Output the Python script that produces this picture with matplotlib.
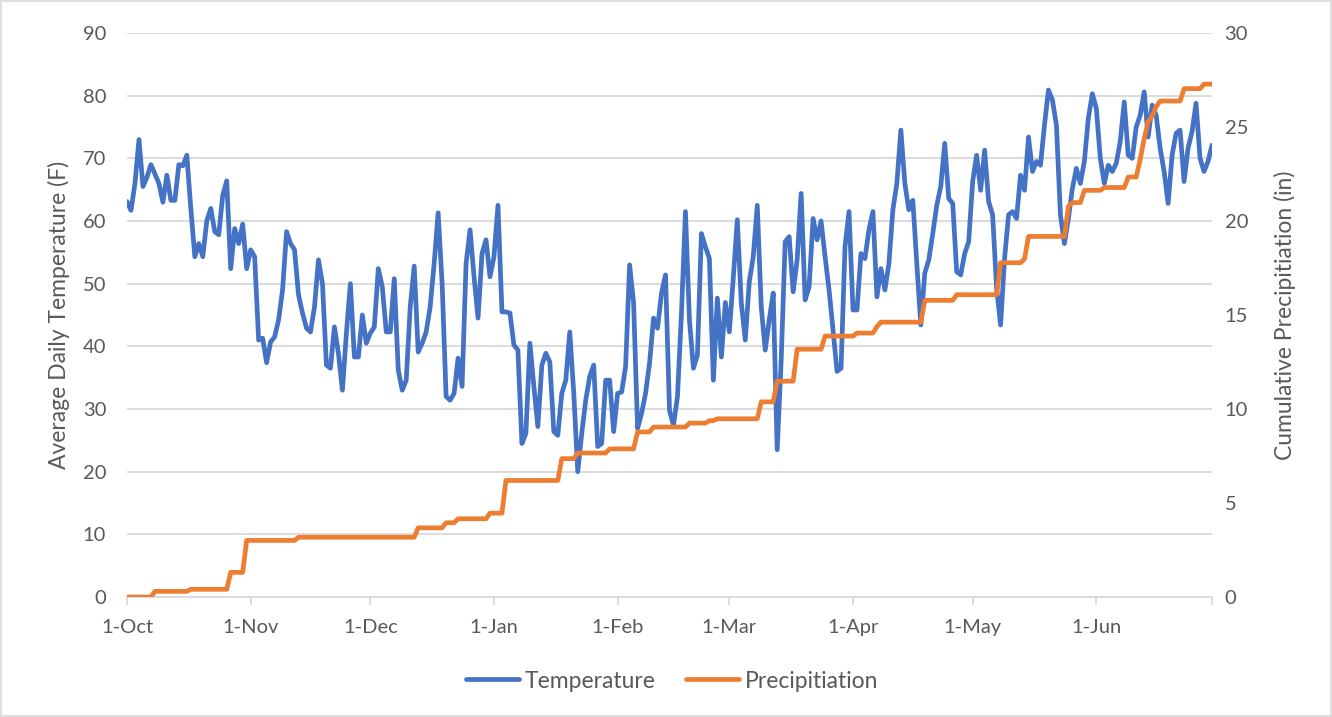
import numpy as np
import pandas as pd
import matplotlib
matplotlib.use("Agg")
import matplotlib.pyplot as plt
from matplotlib.lines import Line2D
from matplotlib.patches import Rectangle

plt.rcParams['font.family'] = ['Lato', 'DejaVu Sans']

# Average daily temperature (F)
temp_oct = [63.1, 61.7, 66, 73, 65.5, 67, 69, 67.5, 66, 63, 67.3, 63.3, 63.3, 69, 68.8, 70.5,
            62, 54.3, 56.4, 54.3, 60, 62, 58.3, 57.8, 64.1, 66.4, 52.4, 58.8, 56.4, 59.5, 52.4]
temp_nov = [55.4, 54.3, 41, 41.3, 37.4, 40.7, 41.5, 44.2, 49, 58.3, 56.4, 55.4, 48.2, 45.3, 42.9,
            42.3, 46.3, 53.8, 50, 37, 36.5, 43.1, 38.9, 33, 42.1, 50, 38.3, 38.3, 45, 40.5]
temp_dec = [42.1, 43.1, 52.4, 49.5, 42.3, 42.3, 50.8, 36.2, 33, 34.6, 46.3, 52.8, 39.1, 40.5, 42.3,
            46.3, 53.2, 61.3, 50, 32, 31.4, 32.5, 38.1, 33.6, 53.2, 58.6, 51.1, 44.5, 54.8, 57, 51.1]
temp_jan = [54.3, 62.5, 45.5, 45.5, 45.3, 40.2, 39.4, 24.5, 26.1, 40.5, 33.6, 27.2, 37, 38.9, 37.5,
            26.4, 25.8, 32.5, 34.6, 42.3, 32.5, 20, 26.1, 31.4, 35.2, 37, 24, 24.5, 34.6, 34.6, 26.4]
temp_feb = [32.5, 32.7, 36.8, 53, 46.9, 26.9, 29.3, 32.5, 37.3, 44.5, 42.9, 48.5, 51.4, 29.8,
            27.4, 32, 45.3, 61.5, 44.2, 36.5, 38.6, 58, 55.9, 54, 34.6, 47.7, 38.3, 47]
temp_mar = [42.3, 51, 60.2, 46.9, 41, 50.3, 54.3, 62.5, 46.3, 39.4, 44.2, 48.5, 23.5, 37.8, 56.7,
            57.5, 48.7, 53.8, 64.4, 47.4, 49.5, 60.4, 57, 60, 54.3, 49, 42.6, 36, 36.5, 55.9, 61.5]
temp_apr = [45.8, 45.8, 54.8, 54, 58.6, 61.5, 47.9, 52.4, 49, 53.2, 61.8, 66, 74.5, 66, 61.8,
            63.3, 53.2, 43.4, 51.7, 53.8, 58, 62.5, 65.5, 72.4, 63.6, 62.8, 51.9, 51.4, 54.8, 56.7]
temp_may = [66.3, 70.5, 64.9, 71.3, 63.1, 61, 49.3, 43.4, 54, 61, 61.5, 60.4, 67.3, 64.9, 73.4,
            67.9, 69.5, 68.9, 75.3, 80.9, 79.3, 75.3, 61, 56.4, 60.4, 65.2, 68.4, 66, 69.5, 76.4, 80.3]
temp_jun = [78, 70, 66, 68.9, 67.9, 69.2, 72.7, 79, 70.5, 70, 75, 76.9, 80.6, 73.4, 78.5,
            76.9, 71.6, 67.9, 62.8, 70.5, 74, 74.5, 66.3, 71.6, 74.3, 78.8, 70, 67.9, 69.5, 72.1]

temperature = (temp_oct + temp_nov + temp_dec + temp_jan + temp_feb +
               temp_mar + temp_apr + temp_may + temp_jun)

# Rain days (days after 1-Oct) and the amount that fell that day (in)
rain_day = [7, 16, 26, 30, 43, 73, 80, 83, 91, 95, 109, 113, 121, 128, 132, 141, 146, 148,
            159, 163, 168, 175, 183, 188, 189, 200, 208, 219, 225, 226, 236, 237, 240, 245,
            251, 254, 255, 256, 257, 258, 259, 265, 270]
rain_in = [0.3, 0.11, 0.9, 1.7, 0.17, 0.5, 0.27, 0.21, 0.3, 1.74, 1.16, 0.3, 0.22, 0.9, 0.26,
           0.21, 0.13, 0.1, 0.9, 1.1, 1.7, 0.7, 0.16, 0.34, 0.24, 1.16, 0.3, 1.7, 0.2, 1.2,
           1.6, 0.2, 0.65, 0.15, 0.56, 0.94, 1.1, 0.9, 0.3, 0.5, 0.3, 0.66, 0.24]

month_labels = ["1-Oct", "1-Nov", "1-Dec", "1-Jan", "1-Feb", "1-Mar", "1-Apr", "1-May", "1-Jun"]

dates = pd.date_range("2018-10-01", "2019-06-30", freq="D")
daily_rain = pd.Series(0.0, index=dates)
daily_rain.iloc[rain_day] = rain_in
precip = daily_rain.cumsum()

blue = "#4472C4"
orange = "#ED7D31"
grey_txt = "#595959"
grid_c = "#D9D9D9"

fig = plt.figure(figsize=(13.32, 7.17), dpi=100)
ax = fig.add_axes([127 / 1332, 1 - 597 / 717, (1212 - 127) / 1332, (597 - 33) / 717])
ax2 = ax.twinx()

ax.plot(dates, temperature, color=blue, lw=3.4, solid_joinstyle="round", solid_capstyle="round")
ax2.plot(dates, precip.values, color=orange, lw=3.4, solid_joinstyle="round", solid_capstyle="round")

ax.set_ylim(0, 90)
ax.set_yticks(range(0, 91, 10))
ax2.set_ylim(0, 30)
ax2.set_yticks(range(0, 31, 5))
ax.set_xlim(dates[0], dates[-1])

month_starts = pd.date_range("2018-10-01", "2019-06-01", freq="MS")
ax.set_xticks(month_starts)
ax.set_xticklabels(month_labels)
ax.set_xticks([dates[-1]], minor=True)

ax.yaxis.grid(True, color=grid_c, lw=1.3)
ax.set_axisbelow(True)
for s in ["top", "left", "right"]:
    ax.spines[s].set_visible(False)
for s in ax2.spines.values():
    s.set_visible(False)
ax.spines["bottom"].set_color(grid_c)
ax.spines["bottom"].set_linewidth(1.3)

ax.tick_params(axis="x", which="both", colors=grid_c, labelcolor=grey_txt, labelsize=14.5,
               length=6, width=1.3, pad=10)
ax.tick_params(axis="y", length=0, labelcolor=grey_txt, labelsize=14.5, pad=15)
ax2.tick_params(axis="y", length=0, labelcolor=grey_txt, labelsize=14.5, pad=9)

ax.set_ylabel("Average Daily Temperature (F)", color=grey_txt, fontsize=16.5, labelpad=9)
ax2.set_ylabel("Cumulative Precipitiation (in)", color=grey_txt, fontsize=16.5, labelpad=19)

handles = [Line2D([], [], color=blue, lw=3.4, solid_capstyle="round"),
           Line2D([], [], color=orange, lw=3.4, solid_capstyle="round")]
fig.legend(handles, ["Temperature", "Precipitiation"], loc="center",
           bbox_to_anchor=(672 / 1332, 1 - 681 / 717),
           ncol=2, frameon=False, fontsize=16.5, labelcolor=grey_txt, handlelength=2.3,
           handletextpad=0.25, columnspacing=1.35)

fig.patches.append(Rectangle((0.001, 0.001), 0.998, 0.997, transform=fig.transFigure,
                             fill=False, edgecolor=grid_c, lw=1.2))

fig.savefig("out.png", dpi=100)
